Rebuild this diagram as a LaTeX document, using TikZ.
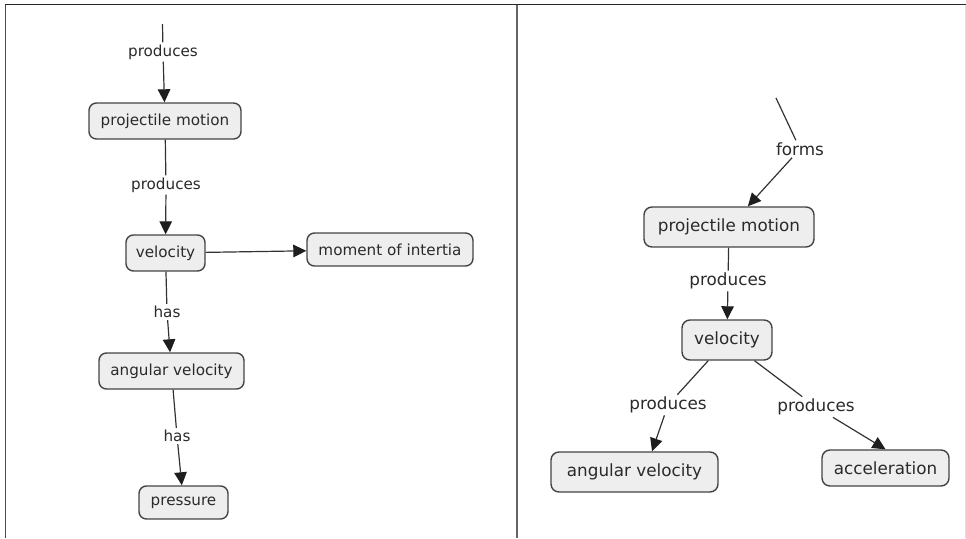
\documentclass[tikz,border=0pt]{standalone}
\usepackage{fontspec}
\setmainfont{DejaVu Sans}
\usetikzlibrary{arrows.meta}
\definecolor{boxfill}{HTML}{EEEEEE}
\definecolor{boxedge}{HTML}{444444}
\definecolor{ink}{HTML}{2A2A2A}
\definecolor{linecol}{HTML}{333333}
\definecolor{headcol}{HTML}{1E1E1E}
\begin{document}
\begin{tikzpicture}[x=1pt,y=-1pt,
  concept/.style={draw=boxedge, line width=1.4pt, fill=boxfill, rounded corners=7.5pt,
    text=ink, inner xsep=0pt, inner ysep=0pt, minimum height=36pt},
  smallfont/.style={font=\fontsize{15.2}{18}\selectfont},
  largefont/.style={font=\fontsize{16.8}{20}\selectfont},
  phrase/.style={fill=white, text=ink, inner sep=2pt},
  link/.style={draw=linecol, line width=1.2pt},
  arrow/.style={link, -{Triangle[length=13pt,width=12.5pt,color=headcol]}},
]
\useasboundingbox (0,0) rectangle (966,538);

% panel frames
\draw[line width=1.5pt, black!85] (5,4.5) -- (966,4.5);
\draw[line width=1.5pt, black!70] (5.5,4.5) -- (5.5,538);
\draw[line width=1.8pt, black!60] (517,4.5) -- (517,538);
\draw[line width=1pt, black!12] (965,4.5) -- (965,538);

% ---------- left map ----------
\begin{scope}[every node/.append style={smallfont}]
  \node[concept, minimum width=152pt] (projL) at (165,121) {projectile motion};
  \node[concept, minimum width=79pt] (velL) at (165.5,253) {velocity};
  \node[concept, minimum width=166pt, minimum height=33pt] (momL) at (390,249.5) {moment of intertia};
  \node[concept, minimum width=145pt] (angL) at (171.5,371) {angular velocity};
  \node[concept, minimum width=89pt, minimum height=33pt] (presL) at (183.5,502.5) {pressure};

  \coordinate (topL) at (162.5,24);
  \node[phrase] (prodA) at (163,52) {produces};
  \node[phrase] (prodB) at (166,185) {produces};
  \node[phrase] (hasA) at (167,312) {has};
  \node[phrase] (hasB) at (177,436) {has};
\end{scope}

\draw[link] (topL) -- (prodA);
\draw[arrow] (prodA) -- (projL);
\draw[link] (projL) -- (prodB);
\draw[arrow] (prodB) -- (velL);
\draw[arrow] (velL) -- (momL);
\draw[link] (velL) -- (hasA);
\draw[arrow] (hasA) -- (angL);
\draw[link] (angL) -- (hasB);
\draw[arrow] (hasB) -- (presL);

% ---------- right map ----------
\begin{scope}[every node/.append style={largefont}]
  \node[concept, rounded corners=8pt, minimum width=170pt, minimum height=40pt] (projR) at (729,227) {projectile motion};
  \node[concept, rounded corners=8pt, minimum width=90pt, minimum height=40pt] (velR) at (727,340) {velocity};
  \node[concept, rounded corners=8pt, minimum width=167pt, minimum height=40pt] (angR) at (634.5,472) {angular velocity};
  \node[concept, rounded corners=8pt, minimum width=127pt, minimum height=36pt] (accR) at (885.5,468) {acceleration};

  \coordinate (topR) at (776,98);
  \node[phrase] (forms) at (800,149) {forms};
  \node[phrase] (prodC) at (728,281) {produces};
  \node[phrase] (prodD) at (668,405) {produces};
  \node[phrase] (prodE) at (816,407) {produces};
\end{scope}

\draw[link] (topR) -- (forms);
\draw[arrow] (forms) -- (projR);
\draw[link] (projR) -- (prodC);
\draw[arrow] (prodC) -- (velR);
\draw[link] (velR) -- (prodD);
\draw[arrow] (prodD) -- ([xshift=17.5pt]angR.north);
\draw[link] (velR) -- (prodE);
\draw[arrow] (prodE) -- (accR.north);
\end{tikzpicture}
\end{document}
